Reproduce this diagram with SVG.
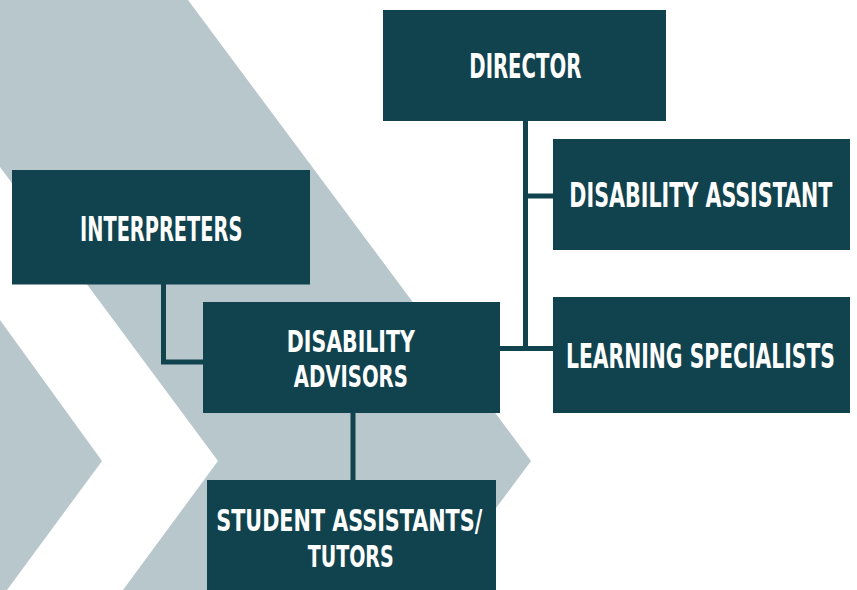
<svg xmlns="http://www.w3.org/2000/svg" width="857" height="590" viewBox="0 0 857 590">
<style>
.bg{fill:#B7C7CC}
.box{fill:#11434F}
.lbl{font-family:"DejaVu Sans Condensed","Liberation Sans Narrow","Liberation Sans",sans-serif;font-weight:bold;font-size:33px;fill:#FFFFFF;text-anchor:middle}
.two{font-size:30px}
.conn{stroke:#11434F;stroke-width:5;fill:none}
</style>
<rect width="857" height="590" fill="#FFFFFF"/>
<g id="background">
<polygon class="bg" points="0,0 188,0 531,461 435,590 123,590 218,461 0,167"/>
<polygon class="bg" points="0,320 102,461 7,590 0,590"/>
</g>
<g id="connectors">
<polyline class="conn" points="525.5,120 525.5,348.5"/>
<polyline class="conn" points="498,348.5 555,348.5"/>
<polyline class="conn" points="525.5,196 555,196"/>
<polyline class="conn" points="163.5,283 163.5,362 205,362"/>
<polyline class="conn" points="353,411 353,482"/>
</g>
<g id="director">
<rect class="box" x="383" y="10" width="283" height="111"/>
<text class="lbl" transform="translate(525.3,78.3) scale(0.7,1)" textLength="160" lengthAdjust="spacingAndGlyphs">DIRECTOR</text>
</g>
<g id="disability-assistant">
<rect class="box" x="553" y="139" width="297" height="111"/>
<text class="lbl" transform="translate(700.8,207.3) scale(0.7,1)" textLength="375.7" lengthAdjust="spacingAndGlyphs">DISABILITY ASSISTANT</text>
</g>
<g id="learning-specialists">
<rect class="box" x="553" y="297" width="297" height="116"/>
<text class="lbl" transform="translate(700.5,368) scale(0.7,1)" textLength="384.3" lengthAdjust="spacingAndGlyphs">LEARNING SPECIALISTS</text>
</g>
<g id="interpreters">
<rect class="box" x="12" y="170" width="298" height="114.5"/>
<text class="lbl" transform="translate(161.2,241) scale(0.7,1)" textLength="232" lengthAdjust="spacingAndGlyphs">INTERPRETERS</text>
</g>
<g id="disability-advisors">
<rect class="box" x="203" y="302" width="297" height="111"/>
<text class="lbl two" transform="translate(350.8,351.5) scale(0.7,1)" textLength="182.9" lengthAdjust="spacingAndGlyphs">DISABILITY</text>
<text class="lbl two" transform="translate(350.8,387) scale(0.7,1)" textLength="162.9" lengthAdjust="spacingAndGlyphs">ADVISORS</text>
</g>
<g id="student-assistants">
<rect class="box" x="207" y="480" width="289" height="110"/>
<text class="lbl two" transform="translate(349.2,531) scale(0.7,1)" textLength="380" lengthAdjust="spacingAndGlyphs">STUDENT ASSISTANTS/</text>
<text class="lbl two" transform="translate(350.7,566.5) scale(0.7,1)" textLength="122.9" lengthAdjust="spacingAndGlyphs">TUTORS</text>
</g>
</svg>
